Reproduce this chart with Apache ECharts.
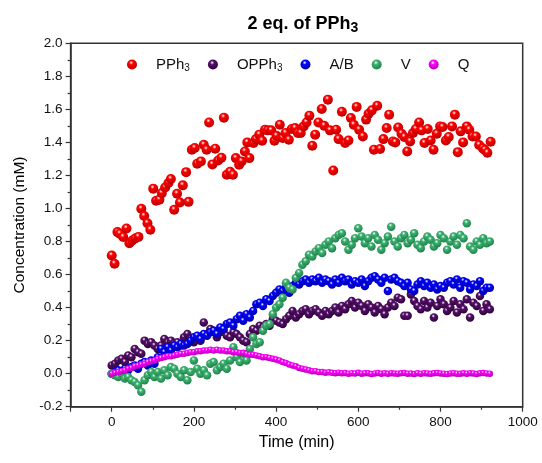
<!DOCTYPE html>
<html><head><meta charset="utf-8">
<script src="https://cdn.jsdelivr.net/npm/echarts@6/dist/echarts.min.js"></script>
<style>html,body{margin:0;padding:0;background:#fff}#c{width:542px;height:463px}</style>
</head><body><div id="c"></div>
<script>
// ---- data ----
const pph3Time = [0,7,14,20,28,36,43,50,57,65,72,79,87,94,101,108,116,122,130,138,144,152,159,166,173,181,187,195,202,208,217,224,231,237,245,252,259,267,273,280,288,295,302,310,316,324,330,335,345,351,359,366,373,380,388,396,401,409,416,423,431,438,446,453,460,467,474,481,488,495,503,511,517,526,531,539,546,552,560,568,576,582,589,596,602,611,619,625,633,638,646,653,661,669,675,684,690,697,705,712,719,726,733,740,748,754,761,769,776,783,791,799,805,813,820,828,835,842,849,855,864,870,878,886,894,903,908,914,922];
const pph3 = [0.715,0.665,0.857,0.847,0.827,0.879,0.79,0.806,0.818,0.828,0.998,0.954,0.911,0.871,1.12,1.047,1.053,1.093,1.127,1.154,1.178,0.992,1.089,1.036,1.14,1.22,1.04,1.356,1.366,1.271,1.285,1.386,1.356,1.521,1.267,1.362,1.291,1.307,1.55,1.204,1.222,1.204,1.305,1.265,1.285,1.345,1.4,1.305,1.396,1.42,1.447,1.41,1.477,1.473,1.473,1.41,1.44,1.507,1.427,1.457,1.416,1.481,1.487,1.457,1.457,1.497,1.521,1.562,1.38,1.447,1.521,1.602,1.501,1.659,1.473,1.23,1.477,1.42,1.586,1.396,1.412,1.548,1.507,1.615,1.477,1.436,1.538,1.574,1.594,1.356,1.622,1.36,1.42,1.487,1.568,1.406,1.4,1.49,1.453,1.433,1.345,1.406,1.457,1.481,1.521,1.473,1.396,1.481,1.412,1.356,1.453,1.497,1.493,1.412,1.433,1.497,1.568,1.341,1.467,1.4,1.497,1.477,1.436,1.436,1.384,1.364,1.354,1.337,1.404];

const time = [0,8,16,24,32,40,48,56,64,72,80,88,96,104,112,120,128,136,144,152,160,168,176,184,192,200,208,216,224,232,240,248,256,264,272,280,288,296,304,312,320,328,336,344,352,360,368,376,384,392,400,408,416,424,432,440,448,456,464,472,480,488,496,504,512,520,528,536,544,552,560,568,576,584,592,600,608,616,624,632,640,648,656,664,672,680,688,696,704,712,720,728,736,744,752,760,768,776,784,792,800,808,816,824,832,840,848,856,864,872,880,888,896,904,912,920];

const opph3 = [0.05,0.06,0.08,0.09,0.07,0.11,0.10,0.15,0.13,0.12,
0.20,0.18,0.19,0.17,0.15,0.17,0.21,0.19,0.20,0.18,
0.19,0.17,0.22,0.24,0.21,0.19,0.22,0.20,0.31,0.24,
0.27,0.26,0.22,0.25,0.26,0.23,0.22,0.25,0.24,0.22,
0.20,0.19,0.24,0.27,0.26,0.29,0.28,0.30,0.29,0.33,
0.32,0.31,0.30,0.33,0.35,0.38,0.34,0.36,0.38,0.39,
0.36,0.38,0.39,0.37,0.35,0.38,0.36,0.38,0.40,0.37,
0.41,0.39,0.42,0.44,0.40,0.43,0.41,0.38,0.42,0.40,
0.37,0.41,0.39,0.36,0.40,0.43,0.41,0.46,0.45,0.35,
0.35,0.48,0.44,0.41,0.39,0.44,0.40,0.43,0.34,0.41,
0.45,0.42,0.38,0.40,0.44,0.37,0.42,0.39,0.45,0.34,
0.43,0.41,0.47,0.38,0.42,0.39];

const ab = [0.00,0.01,0.02,0.01,0.03,0.02,0.04,0.05,0.03,0.06,
0.07,0.05,0.08,0.06,0.10,0.15,0.13,0.16,0.14,0.17,
0.16,0.18,0.17,0.18,0.20,0.22,0.23,0.21,0.24,0.23,
0.25,0.26,0.24,0.28,0.27,0.30,0.31,0.29,0.33,0.35,
0.32,0.36,0.34,0.38,0.42,0.43,0.41,0.45,0.44,0.47,
0.49,0.51,0.50,0.52,0.49,0.53,0.55,0.54,0.56,0.57,
0.55,0.57,0.56,0.58,0.55,0.57,0.56,0.54,0.57,0.55,
0.58,0.56,0.57,0.54,0.56,0.55,0.57,0.53,0.56,0.58,
0.59,0.57,0.55,0.58,0.50,0.57,0.58,0.56,0.55,0.53,
0.55,0.51,0.50,0.54,0.56,0.53,0.55,0.52,0.54,0.51,
0.53,0.52,0.55,0.56,0.54,0.57,0.52,0.56,0.55,0.51,
0.54,0.53,0.56,0.50,0.52,0.52];

const v = [0.00,-0.01,-0.02,0.00,-0.03,-0.02,-0.04,-0.05,-0.07,-0.11,
-0.04,-0.01,0.01,-0.02,0.01,-0.03,0.02,-0.01,0.04,0.03,
0.00,-0.02,0.02,-0.04,0.01,0.08,0.03,0.00,0.02,-0.01,
0.06,0.07,0.02,0.04,0.06,0.03,0.08,0.16,0.10,0.07,
0.12,0.08,0.15,0.22,0.18,0.19,0.26,0.29,0.30,0.36,
0.40,0.42,0.46,0.55,0.52,0.51,0.58,0.61,0.66,0.68,
0.72,0.71,0.74,0.76,0.73,0.78,0.80,0.76,0.82,0.84,
0.85,0.80,0.75,0.78,0.82,0.88,0.83,0.79,0.82,0.77,
0.84,0.81,0.75,0.79,0.83,0.89,0.80,0.77,0.82,0.84,
0.79,0.81,0.85,0.78,0.76,0.80,0.83,0.81,0.77,0.79,
0.84,0.82,0.75,0.80,0.83,0.78,0.84,0.82,0.91,0.77,
0.75,0.80,0.78,0.82,0.79,0.80];

const q = [0.000,0.005,0.010,0.015,0.020,0.030,0.035,0.045,0.050,0.055,
0.060,0.070,0.075,0.080,0.090,0.095,0.100,0.105,0.105,0.110,
0.115,0.120,0.120,0.125,0.130,0.130,0.135,0.135,0.140,0.140,
0.145,0.140,0.145,0.140,0.140,0.135,0.135,0.130,0.130,0.125,
0.125,0.120,0.115,0.115,0.110,0.105,0.100,0.100,0.095,0.090,
0.085,0.080,0.070,0.065,0.055,0.050,0.045,0.035,0.030,0.025,
0.020,0.015,0.015,0.010,0.010,0.005,0.008,0.005,0.003,0.006,
0.002,0.004,0.000,0.003,0.001,0.005,0.000,0.002,0.003,-0.002,
0.001,0.004,0.000,0.002,-0.001,0.003,0.001,0.000,0.002,0.004,
0.000,0.001,-0.002,0.002,0.000,0.003,0.001,-0.001,0.002,0.004,
0.001,0.000,-0.002,0.001,0.003,0.000,-0.001,0.002,0.000,0.003,
0.001,-0.002,0.002,0.004,0.001,0.000];

const seriesNames = ['PPh3','OPPh3','A/B','V','Q'];
const xTicks = [0,200,400,600,800,1000];
// ---- chart ----
const FONT = '"Liberation Sans", Arial, sans-serif';
function ball(c, dark){
  return new echarts.graphic.RadialGradient(0.42,0.32,0.72,[
    {offset:0,color:'#ffffff'},{offset:0.28,color:c},{offset:1,color:dark}]);
}
function pairs(t, y){ return t.map((x,i)=>[x,y[i]]); }
const chart = echarts.init(document.getElementById('c'), null, {renderer:'canvas'});
const styles = [
  {c:'#ff0000', d:'#b00000', size:10},
  {c:'#55106a', d:'#2a0035', size:8.5},
  {c:'#0000ff', d:'#00009a', size:8.5},
  {c:'#3cb371', d:'#1f7a47', size:8.5},
  {c:'#ff00ff', d:'#b000b0', size:6.5}
];
const dataSets = [pairs(pph3Time,pph3), pairs(time,opph3), pairs(time,ab), pairs(time,v), pairs(time,q)];
chart.setOption({
  animation:false,
  backgroundColor:'#fff',
  title:{
    text:'{b|2 eq. of PPh}{s|3}',
    left:298, top:8, textAlign:'center',
    textStyle:{rich:{
      b:{fontFamily:FONT,fontWeight:'bold',fontSize:18,color:'#000'},
      s:{fontFamily:FONT,fontWeight:'bold',fontSize:14,color:'#000',padding:[8,0,0,0]}
    }}
  },
  legend:{
    top:52, left:122, itemGap:18, itemWidth:10, itemHeight:10, icon:'circle',
    data:seriesNames,
    formatter:function(n){
      const m = n.match(/^(.*?)(\d)$/);
      return m ? '{n|'+m[1]+'}{s|'+m[2]+'}' : '{n|'+n+'}';
    },
    textStyle:{padding:[0,0,0,14],rich:{
      n:{fontFamily:FONT,fontSize:15,color:'#111'},
      s:{fontFamily:FONT,fontSize:10,color:'#111',padding:[7,0,0,0]}
    }}
  },
  grid:{left:70.6, right:19.3, top:43.3, bottom:56.3, show:true, borderColor:'#333', borderWidth:1.5},
  xAxis:{
    type:'value', min:-100, max:1000, splitNumber:5,
    name:'Time (min)', nameLocation:'middle', nameGap:25,
    nameTextStyle:{fontFamily:FONT,fontSize:16,color:'#000'},
    axisLine:{onZero:false,lineStyle:{color:'#333',width:1.5}},
    axisTick:{length:5,lineStyle:{color:'#333',width:1.2}},
    minorTick:{show:true,splitNumber:2,length:3,lineStyle:{color:'#333',width:1.2}},
    axisLabel:{fontFamily:FONT,fontSize:13.5,color:'#111',margin:9,
      formatter:function(val){ return xTicks.indexOf(val)>=0 ? String(val) : ''; }},
    splitLine:{show:false}
  },
  yAxis:{
    type:'value', min:-0.2, max:2.0, interval:0.2,
    name:'Concentration (mM)', nameLocation:'middle', nameGap:43,
    nameTextStyle:{fontFamily:FONT,fontSize:15.5,color:'#000'},
    axisLine:{show:true,onZero:false,lineStyle:{color:'#333',width:1.5}},
    axisTick:{show:true,length:5,lineStyle:{color:'#333',width:1.2}},
    minorTick:{show:true,splitNumber:2,length:3,lineStyle:{color:'#333',width:1.2}},
    axisLabel:{fontFamily:FONT,fontSize:13.5,color:'#111',margin:8,
      formatter:function(val){ return val.toFixed(1); }},
    splitLine:{show:false}
  },
  series: seriesNames.map((n,i)=>({
    name:n, type:'scatter', data:dataSets[i], symbolSize:styles[i].size,
    itemStyle:{color:ball(styles[i].c, styles[i].d), opacity:1},
    z:2+i
  }))
});
</script></body></html>
